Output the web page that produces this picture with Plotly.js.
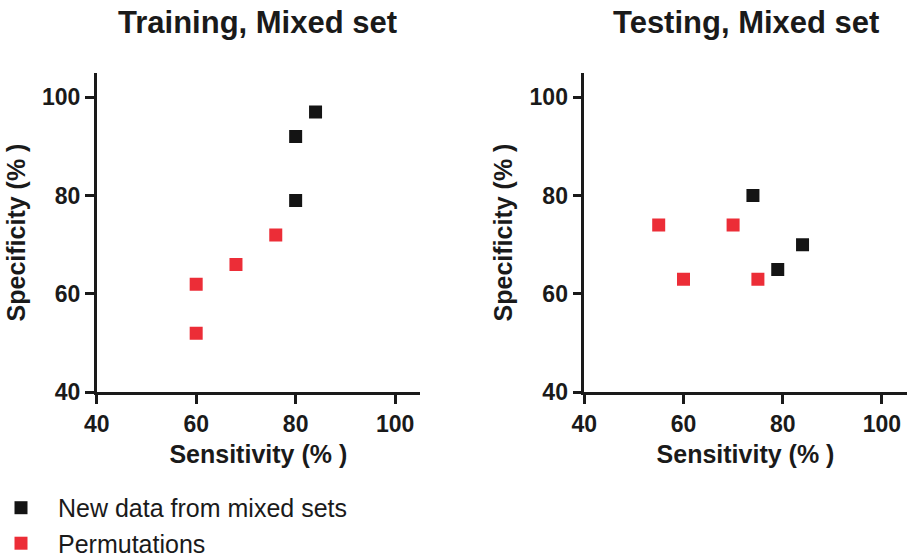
<!DOCTYPE html>
<html>
<head>
<meta charset="utf-8">
<script src="https://cdn.plot.ly/plotly-3.0.1.min.js"></script>
<style>html,body{margin:0;padding:0;background:#fff;}#chart{width:908px;height:560px;}</style>
</head>
<body>
<div id="chart"></div>
<script>
// Data
const seriesNames = ["New data from mixed sets", "Permutations"];
const trainNewSens = [80, 84, 80];
const trainNewSpec = [92, 97, 79];
const trainPermSens = [60, 60, 68, 76];
const trainPermSpec = [62, 52, 66, 72];
const testNewSens = [74, 84, 79];
const testNewSpec = [80, 70, 65];
const testPermSens = [55, 60, 70, 75];
const testPermSpec = [74, 63, 74, 63];
const tickVals = [40, 60, 80, 100];
const tickText = ["40", "60", "80", "100"];
const panelTitles = ["Training, Mixed set", "Testing, Mixed set"];
const xTitle = "Sensitivity (% )";
const yTitle = "Specificity (% )";

const BLACK = "#141414";
const RED = "#ec2d37";
const FONT = "Liberation Sans, Arial, sans-serif";

function tr(x, y, name, color, xa, ya, show) {
  return {
    type: "scatter", mode: "markers", x: x, y: y, name: name,
    xaxis: xa, yaxis: ya, showlegend: show, legendgroup: name,
    marker: {symbol: "square", size: 13, color: color, line: {width: 0}},
    hoverinfo: "x+y"
  };
}

const data = [
  tr(trainNewSens, trainNewSpec, seriesNames[0], BLACK, "x", "y", true),
  tr(trainPermSens, trainPermSpec, seriesNames[1], RED, "x", "y", true),
  tr(testNewSens, testNewSpec, seriesNames[0], BLACK, "x2", "y2", false),
  tr(testPermSens, testPermSpec, seriesNames[1], RED, "x2", "y2", false)
];

function xax(domain, anchor) {
  return {
    domain: domain, anchor: anchor, range: [40, 105],
    tickvals: tickVals, ticktext: tickText,
    showline: true, linecolor: "#1a1a1a", linewidth: 2.5,
    ticks: "outside", ticklen: 9, tickwidth: 2.5, tickcolor: "#1a1a1a",
    showgrid: false, zeroline: false,
    tickfont: {family: FONT, size: 23, color: "#1a1a1a", weight: "bold"},
    title: {text: xTitle, standoff: 10, font: {family: FONT, size: 25, color: "#1a1a1a", weight: "bold"}},
    fixedrange: true
  };
}
function yax(domain, anchor) {
  return {
    domain: domain, anchor: anchor, range: [40, 105],
    tickvals: tickVals, ticktext: tickText,
    showline: true, linecolor: "#1a1a1a", linewidth: 2.5,
    ticks: "outside", ticklen: 9, tickwidth: 2.5, tickcolor: "#1a1a1a",
    showgrid: false, zeroline: false,
    tickfont: {family: FONT, size: 23, color: "#1a1a1a", weight: "bold"},
    title: {text: yTitle, standoff: 10, font: {family: FONT, size: 25, color: "#1a1a1a", weight: "bold"}},
    fixedrange: true
  };
}

const yDom = [1 - 392.3 / 560, 1 - 72.7 / 560];
const layout = {
  width: 908, height: 560,
  margin: {l: 0, r: 0, t: 0, b: 0, autoexpand: false},
  paper_bgcolor: "#ffffff", plot_bgcolor: "#ffffff",
  showlegend: true,
  xaxis: xax([96.7 / 908, 420 / 908], "y"),
  yaxis: yax(yDom, "x"),
  xaxis2: xax([584.3 / 908, 906.7 / 908], "y2"),
  yaxis2: yax(yDom, "x2"),
  legend: {
    x: -16 / 908, y: 0.134, xanchor: "left", yanchor: "top",
    font: {family: FONT, size: 25, color: "#1a1a1a"},
    bgcolor: "rgba(0,0,0,0)", itemwidth: 64, tracegroupgap: 0
  },
  annotations: [
    {text: panelTitles[0], xref: "paper", yref: "paper", x: 257.5 / 908, y: 1 - 23 / 560,
     xanchor: "center", yanchor: "middle", showarrow: false,
     font: {family: FONT, size: 31, color: "#1a1a1a", weight: "bold"}},
    {text: panelTitles[1], xref: "paper", yref: "paper", x: 746 / 908, y: 1 - 23 / 560,
     xanchor: "center", yanchor: "middle", showarrow: false,
     font: {family: FONT, size: 31, color: "#1a1a1a", weight: "bold"}}
  ]
};

Plotly.newPlot("chart", data, layout, {displayModeBar: false});
</script>
</body>
</html>
